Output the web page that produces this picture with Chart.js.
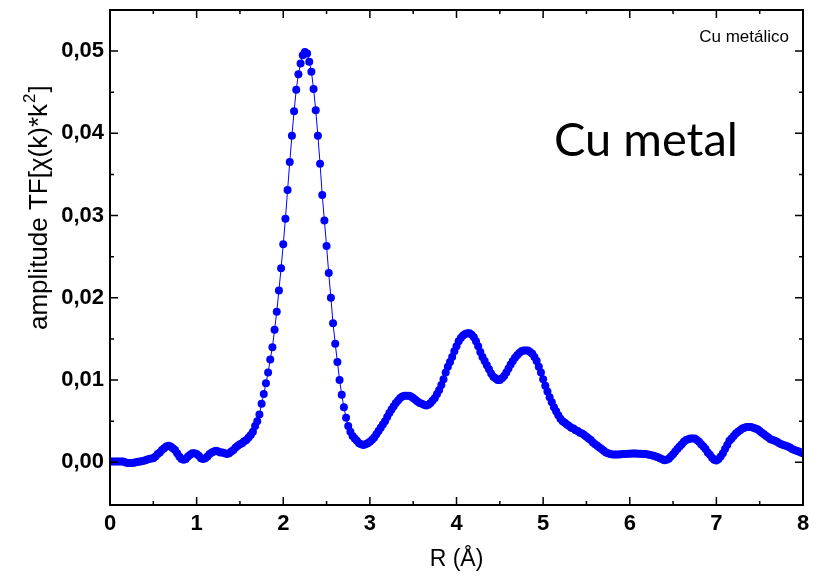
<!DOCTYPE html>
<html>
<head>
<meta charset="utf-8">
<script src="https://cdn.jsdelivr.net/npm/chart.js@4.4.1/dist/chart.umd.min.js"></script>
<style>
  body { margin: 0; background: #fff; }
  canvas { display: block; }
</style>
</head>
<body>
<canvas id="ftChart" width="818" height="579"></canvas>
<script>
// R grid (Å), one point every 0.025 Å like the dots in the plot
const rValues = [
  0, 0.025, 0.05, 0.075, 0.1, 0.125, 0.15, 0.175, 0.2, 0.225,
  0.25, 0.275, 0.3, 0.325, 0.35, 0.375, 0.4, 0.425, 0.45, 0.475,
  0.5, 0.525, 0.55, 0.575, 0.6, 0.625, 0.65, 0.675, 0.7, 0.725,
  0.75, 0.775, 0.8, 0.825, 0.85, 0.875, 0.9, 0.925, 0.95, 0.975,
  1.0, 1.025, 1.05, 1.075, 1.1, 1.125, 1.15, 1.175, 1.2, 1.225,
  1.25, 1.275, 1.3, 1.325, 1.35, 1.375, 1.4, 1.425, 1.45, 1.475,
  1.5, 1.525, 1.55, 1.575, 1.6, 1.625, 1.65, 1.675, 1.7, 1.725,
  1.75, 1.775, 1.8, 1.825, 1.85, 1.875, 1.9, 1.925, 1.95, 1.975,
  2.0, 2.025, 2.05, 2.075, 2.1, 2.125, 2.15, 2.175, 2.2, 2.225,
  2.25, 2.275, 2.3, 2.325, 2.35, 2.375, 2.4, 2.425, 2.45, 2.475,
  2.5, 2.525, 2.55, 2.575, 2.6, 2.625, 2.65, 2.675, 2.7, 2.725,
  2.75, 2.775, 2.8, 2.825, 2.85, 2.875, 2.9, 2.925, 2.95, 2.975,
  3.0, 3.025, 3.05, 3.075, 3.1, 3.125, 3.15, 3.175, 3.2, 3.225,
  3.25, 3.275, 3.3, 3.325, 3.35, 3.375, 3.4, 3.425, 3.45, 3.475,
  3.5, 3.525, 3.55, 3.575, 3.6, 3.625, 3.65, 3.675, 3.7, 3.725,
  3.75, 3.775, 3.8, 3.825, 3.85, 3.875, 3.9, 3.925, 3.95, 3.975,
  4.0, 4.025, 4.05, 4.075, 4.1, 4.125, 4.15, 4.175, 4.2, 4.225,
  4.25, 4.275, 4.3, 4.325, 4.35, 4.375, 4.4, 4.425, 4.45, 4.475,
  4.5, 4.525, 4.55, 4.575, 4.6, 4.625, 4.65, 4.675, 4.7, 4.725,
  4.75, 4.775, 4.8, 4.825, 4.85, 4.875, 4.9, 4.925, 4.95, 4.975,
  5.0, 5.025, 5.05, 5.075, 5.1, 5.125, 5.15, 5.175, 5.2, 5.225,
  5.25, 5.275, 5.3, 5.325, 5.35, 5.375, 5.4, 5.425, 5.45, 5.475,
  5.5, 5.525, 5.55, 5.575, 5.6, 5.625, 5.65, 5.675, 5.7, 5.725,
  5.75, 5.775, 5.8, 5.825, 5.85, 5.875, 5.9, 5.925, 5.95, 5.975,
  6.0, 6.025, 6.05, 6.075, 6.1, 6.125, 6.15, 6.175, 6.2, 6.225,
  6.25, 6.275, 6.3, 6.325, 6.35, 6.375, 6.4, 6.425, 6.45, 6.475,
  6.5, 6.525, 6.55, 6.575, 6.6, 6.625, 6.65, 6.675, 6.7, 6.725,
  6.75, 6.775, 6.8, 6.825, 6.85, 6.875, 6.9, 6.925, 6.95, 6.975,
  7.0, 7.025, 7.05, 7.075, 7.1, 7.125, 7.15, 7.175, 7.2, 7.225,
  7.25, 7.275, 7.3, 7.325, 7.35, 7.375, 7.4, 7.425, 7.45, 7.475,
  7.5, 7.525, 7.55, 7.575, 7.6, 7.625, 7.65, 7.675, 7.7, 7.725,
  7.75, 7.775, 7.8, 7.825, 7.85, 7.875, 7.9, 7.925, 7.95, 7.975,
  8.0
];

// amplitude TF[chi(k)*k^2] (Cu metálico), same order as rValues
const amplitude = [
  0.0001, 0.0001, 0.0001, 0.0001, 0.0001, 0.0001, 0.0001, 0.0000, -0.0001, -0.0001,
  -0.0001, -0.00005, 0.0000, 0.00005, 0.0001, 0.00015, 0.0002, 0.0003, 0.0004, 0.00045,
  0.0005, 0.0007, 0.0010, 0.0012, 0.0015, 0.0017, 0.0019, 0.0020, 0.0019, 0.0017,
  0.0015, 0.0011, 0.0007, 0.0004, 0.0003, 0.0004, 0.0007, 0.0009, 0.0011, 0.0011,
  0.0010, 0.0008, 0.0005, 0.0004, 0.0005, 0.0007, 0.0010, 0.0012, 0.0013, 0.0014,
  0.0013, 0.0012, 0.0012, 0.0011, 0.0010, 0.0011, 0.0013, 0.0015, 0.0018, 0.0020,
  0.0022, 0.0023, 0.00255, 0.0027, 0.0030, 0.0033, 0.0037, 0.0044, 0.0050, 0.0058,
  0.0071, 0.0083, 0.0096, 0.0109, 0.0125, 0.0140, 0.0161, 0.0183, 0.0209, 0.0236,
  0.0265, 0.0296, 0.0331, 0.0365, 0.0397, 0.0427, 0.0453, 0.0472, 0.0485, 0.0495,
  0.0499, 0.0497, 0.0487, 0.0475, 0.0454, 0.0428, 0.0397, 0.0363, 0.0325, 0.0294,
  0.0263, 0.0230, 0.0200, 0.0169, 0.0144, 0.0122, 0.0100, 0.0082, 0.0067, 0.0054,
  0.0044, 0.0037, 0.0032, 0.0029, 0.0026, 0.0023, 0.0022, 0.0021, 0.0022, 0.0023,
  0.0025, 0.00275, 0.0030, 0.0034, 0.0038, 0.0042, 0.0046, 0.0050, 0.0055, 0.0060,
  0.0064, 0.0068, 0.0072, 0.0075, 0.0078, 0.0080, 0.0081, 0.0081, 0.0081, 0.0080,
  0.0078, 0.0076, 0.0074, 0.0072, 0.0071, 0.0070, 0.0069, 0.0070, 0.0072, 0.0075,
  0.0078, 0.0083, 0.0088, 0.0094, 0.0101, 0.0109, 0.0116, 0.0122, 0.0128, 0.0135,
  0.0141, 0.0147, 0.0151, 0.0154, 0.0156, 0.0157, 0.0157, 0.0155, 0.0152, 0.0147,
  0.0141, 0.0134, 0.0128, 0.0123, 0.0118, 0.0113, 0.0108, 0.0104, 0.0102, 0.0100,
  0.0100, 0.0102, 0.0105, 0.0109, 0.0114, 0.0119, 0.0123, 0.0127, 0.0130, 0.0133,
  0.0135, 0.0136, 0.0136, 0.0136, 0.0134, 0.0132, 0.0128, 0.0123, 0.0116, 0.0109,
  0.0101, 0.0093, 0.0086, 0.0079, 0.0073, 0.0067, 0.0062, 0.0057, 0.0053, 0.0050,
  0.0048, 0.0046, 0.0044, 0.0042, 0.0041, 0.0039, 0.0038, 0.0036, 0.0035, 0.0033,
  0.0031, 0.0029, 0.0027, 0.0024, 0.0022, 0.0020, 0.0018, 0.0016, 0.0014, 0.0012,
  0.0011, 0.0010, 0.00095, 0.00094, 0.00094, 0.00095, 0.00097, 0.00099, 0.0010, 0.00102,
  0.00103, 0.00105, 0.00106, 0.00105, 0.00103, 0.00102, 0.0010, 0.00099, 0.00097, 0.00092,
  0.00085, 0.00078, 0.0007, 0.0006, 0.0005, 0.00036, 0.00024, 0.0003, 0.00043, 0.0007,
  0.00097, 0.0013, 0.0016, 0.0019, 0.0022, 0.0025, 0.0027, 0.0028, 0.0029, 0.0029,
  0.0029, 0.0027, 0.0025, 0.0022, 0.0019, 0.0016, 0.0012, 0.0009, 0.00055, 0.0003,
  0.0002, 0.0004, 0.0007, 0.0011, 0.0016, 0.0021, 0.0026, 0.0029, 0.0032, 0.0035,
  0.0037, 0.0039, 0.0041, 0.0042, 0.0043, 0.0043, 0.0043, 0.0042, 0.0041, 0.0040,
  0.0038, 0.0036, 0.0034, 0.0032, 0.0030, 0.0028, 0.0027, 0.0026, 0.0025, 0.0023,
  0.0022, 0.0021, 0.0020, 0.0019, 0.0018, 0.0016, 0.0015, 0.0014, 0.0013, 0.0012,
  0.0011
];

const xTicks = [0, 1, 2, 3, 4, 5, 6, 7, 8];
const xMinor = [0.5, 1.5, 2.5, 3.5, 4.5, 5.5, 6.5, 7.5];
const yTicks = [0, 0.01, 0.02, 0.03, 0.04, 0.05];
const yMinor = [0.005, 0.015, 0.025, 0.035, 0.045];

const tickFont = { family: "'Liberation Sans Narrow', 'Liberation Sans', Arial", size: 22, weight: "bold" };

// frame, inward ticks on all four sides, titles and text
const frameAndText = {
  id: "frameAndText",
  afterDatasetsDraw(chart) {
    const ctx = chart.ctx;
    const a = chart.chartArea;
    const xs = chart.scales.x;
    const ys = chart.scales.y;
    ctx.save();
    ctx.strokeStyle = "#000";
    ctx.lineWidth = 1.5;
    ctx.beginPath();
    const tick = (vals, len) => {
      vals.forEach((v) => {
        const px = xs.getPixelForValue(v);
        ctx.moveTo(px, a.bottom); ctx.lineTo(px, a.bottom - len);
        ctx.moveTo(px, a.top); ctx.lineTo(px, a.top + len);
      });
    };
    const ytick = (vals, len) => {
      vals.forEach((v) => {
        const py = ys.getPixelForValue(v);
        ctx.moveTo(a.left, py); ctx.lineTo(a.left + len, py);
        ctx.moveTo(a.right, py); ctx.lineTo(a.right - len, py);
      });
    };
    tick(xTicks, 8);
    tick(xMinor, 4);
    ytick(yTicks, 8);
    ytick(yMinor, 4);
    ctx.stroke();

    ctx.lineWidth = 2;
    ctx.strokeRect(a.left, a.top, a.right - a.left, a.bottom - a.top);

    ctx.fillStyle = "#000";
    // x title
    ctx.font = "23px 'Liberation Sans', Arial";
    ctx.textAlign = "center";
    ctx.textBaseline = "alphabetic";
    ctx.fillText("R (Å)", (a.left + a.right) / 2, 566);

    // y title, rotated, with superscript 2
    ctx.save();
    ctx.translate(47, 330);
    ctx.rotate(-Math.PI / 2);
    ctx.textAlign = "left";
    ctx.font = "26px 'Liberation Sans', Arial";
    const part1 = "amplitude TF[χ(k)*k";
    ctx.fillText(part1, 0, 0);
    let w = ctx.measureText(part1).width;
    ctx.font = "17px 'Liberation Sans', Arial";
    ctx.fillText("2", w + 1, -12);
    w += ctx.measureText("2").width + 2;
    ctx.font = "26px 'Liberation Sans', Arial";
    ctx.fillText("]", w, 0);
    ctx.restore();

    // series name in the corner
    ctx.font = "17px 'Liberation Sans', Arial";
    ctx.textAlign = "right";
    ctx.fillText("Cu metálico", 789, 42);

    // big annotation
    ctx.font = "47px Lato, 'Open Sans', sans-serif";
    ctx.textAlign = "left";
    ctx.fillText("Cu metal", 554, 156);
    ctx.restore();
  }
};

const points = rValues.map((r, i) => ({ x: r, y: amplitude[i] }));

const ctx = document.getElementById("ftChart").getContext("2d");
new Chart(ctx, {
  type: "line",
  data: {
    datasets: [
      {
        label: "Cu metálico",
        data: points,
        borderColor: "#0000ff",
        backgroundColor: "#0000ff",
        borderWidth: 1,
        pointRadius: 4,
        pointBorderWidth: 0,
        tension: 0,
        clip: 0,
      },
    ],
  },
  options: {
    responsive: false,
    animation: false,
    layout: { padding: { top: 10, right: 15, left: 0, bottom: 0 } },
    plugins: { legend: { display: false }, tooltip: { enabled: false } },
    scales: {
      x: {
        type: "linear",
        min: 0,
        max: 8,
        grid: { display: false, drawTicks: false },
        border: { display: false },
        ticks: { color: "#000", font: tickFont, padding: 6, maxRotation: 0 },
        afterBuildTicks: (s) => { s.ticks = xTicks.map((v) => ({ value: v })); },
        afterFit: (s) => { s.height = 74; s.paddingLeft = 0; s.paddingRight = 0; },
      },
      y: {
        min: -0.0052,
        max: 0.055,
        grid: { display: false, drawTicks: false },
        border: { display: false },
        ticks: {
          color: "#000",
          font: tickFont,
          padding: 6,
          callback: (v) => v.toFixed(2).replace(".", ","),
        },
        afterBuildTicks: (s) => { s.ticks = yTicks.map((v) => ({ value: v })); },
        afterFit: (s) => { s.width = 110; s.paddingTop = 0; s.paddingBottom = 0; },
      },
    },
  },
  plugins: [frameAndText],
});
</script>
</body>
</html>
